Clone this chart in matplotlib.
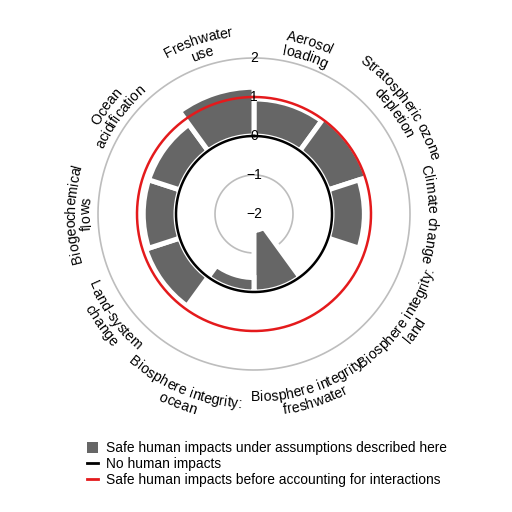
import numpy as np
import matplotlib
matplotlib.use("Agg")
import matplotlib.pyplot as plt
from matplotlib.patches import Patch
from matplotlib.lines import Line2D
from matplotlib.font_manager import FontProperties

plt.rcParams['font.family'] = ['Liberation Sans', 'DejaVu Sans']

categories = ["Aerosol\nloading", "Stratospheric ozone\ndepletion", "Climate change",
              "Biosphere integrity:\nland", "Biosphere integrity:\nfreshwater",
              "Biosphere integrity:\nocean", "Land-system\nchange",
              "Biogeochemical\nflows", "Ocean\nacidification", "Freshwater\nuse"]
values = [0.95, 1.04, 0.83, 0.0, -1.58, -0.37, 0.92, 0.84, 0.84, 1.25]
r_ticks = [2, 1, 0, -1, -2]
r_tick_labels = ["2", "1", "0", "\u22121", "\u22122"]
no_impact_level = 0
safe_level = 1
legend_labels = ["Safe human impacts under assumptions described here",
                 "No human impacts",
                 "Safe human impacts before accounting for interactions"]

bar_color = "#666666"
red = "#e41a1c"
DPI = 100
FS = 10.2

fig = plt.figure(figsize=(5.12, 5.12), dpi=DPI)
cx, cy, R = 254, 214, 156
ax = fig.add_axes([(cx - R) / 512, (512 - cy - R) / 512, 2 * R / 512, 2 * R / 512],
                  projection='polar')
ax.set_theta_zero_location('N')
ax.set_theta_direction(-1)
rmin, rmax = -2, 2
ax.set_ylim(rmin, rmax)
ax.set_axis_off()

n = len(categories)
width = 2 * np.pi / n
theta = np.arange(n) * width + width / 2

ax.bar(theta, values, width=width, bottom=0, color=bar_color,
       edgecolor='white', linewidth=3.6, zorder=2)

tt = np.linspace(0, 2 * np.pi, 400)
ax.plot(tt, np.full_like(tt, -1), color='#bdbdbd', lw=1.2, zorder=1)
ax.plot(tt, np.full_like(tt, 2), color='#bdbdbd', lw=1.2, zorder=1, clip_on=False)
ax.plot(tt, np.full_like(tt, no_impact_level), color='black', lw=1.8, zorder=3)
ax.plot(tt, np.full_like(tt, safe_level), color=red, lw=1.8, zorder=3)

for v, lab in zip(r_ticks, r_tick_labels):
    ax.text(0, v, lab, ha='center', va='center', fontsize=10, zorder=4)

# ---- curved category labels ----
prop = FontProperties(family='Liberation Sans', size=FS)
renderer = fig.canvas.get_renderer()


def tw(s):
    return renderer.get_text_width_height_descent(s, prop, ismath=False)[0]


base_w = tw("xx")


def adv(s):
    return tw("x" + s + "x") - base_w


def px_to_r(p):
    return rmin + (rmax - rmin) * p / R


em = FS * DPI / 72.0
lh = 1.05 * em
mid = 0.34 * em  # baseline -> visual centre of a line


def curved_line(th_c, r_c_px, s, top):
    W = adv(s)
    r_base = r_c_px - mid if top else r_c_px + mid
    for i, ch in enumerate(s):
        if ch == " ":
            continue
        a0 = adv(s[:i])
        a1 = adv(s[:i + 1])
        d = (a0 + a1) / 2 - W / 2
        dphi = d / r_c_px
        phi = th_c + dphi if top else th_c - dphi
        deg = np.degrees(phi)
        rot = -deg if top else 180 - deg
        ax.text(phi, px_to_r(r_base), ch, fontproperties=prop, ha='center',
                va='baseline', rotation=rot, rotation_mode='anchor')


# label layout: radius of each label block (pixels from centre) and angular nudge
label_radius_px = [174, 182, 178, 191, 190, 197, 182, 176, 176, 176]
label_shift_deg = [0, 0, 0, 0, 0, 4, 0, 0, 0, 0]

for th, dth, rb, lab in zip(theta, label_shift_deg, label_radius_px, categories):
    deg = np.degrees(th)
    top = deg <= 90 or deg >= 270
    lines = lab.split("\n")
    k = len(lines)
    for j, line in enumerate(lines):
        off = ((k - 1) / 2 - j) * lh
        r_line = rb + off if top else rb - off
        curved_line(th + np.radians(dth), r_line, line, top)

handles = [Patch(facecolor=bar_color, edgecolor='none'),
           Line2D([0], [0], color='black', lw=2),
           Line2D([0], [0], color=red, lw=2)]
fig.legend(handles, legend_labels, loc='upper left',
           bbox_to_anchor=(87 / 512, 1 - 441 / 512), frameon=False,
           fontsize=9.9, handlelength=0.8, handleheight=0.9, handletextpad=0.6,
           labelspacing=0.15, borderaxespad=0, borderpad=0)

fig.savefig("out.png", dpi=DPI)
